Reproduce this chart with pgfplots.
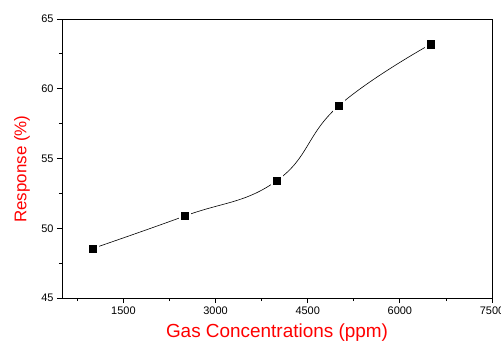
\documentclass[border=0pt]{standalone}
\usepackage{pgfplots}
\pgfplotsset{compat=1.18}
\usepackage{fontspec}
\setmainfont{Liberation Sans}
\begin{document}
\begin{tikzpicture}[x=1bp,y=1bp]
\useasboundingbox (-62,-45) rectangle (439,298);
\begin{axis}[
  at={(0,0)}, anchor=south west,
  scale only axis, width=430bp, height=279bp,
  xmin=500, xmax=7500, ymin=45, ymax=65,
  xtick={1500,3000,4500,6000,7500},
  minor xtick={750,2250,3750,5250,6750},
  ytick={45,50,55,60,65},
  minor ytick={47.5,52.5,57.5,62.5},
  tick pos=left, tick align=outside,
  major tick length=5bp, minor tick length=3bp,
  every tick/.style={black, line width=0.8bp},
  axis line style={black, line width=0.9bp},
  /pgf/number format/assume math mode=true,
  /pgf/number format/set thousands separator={},
  tick label style={font=\fontsize{11}{13}\selectfont},
  xlabel={Gas Concentrations (ppm)},
  ylabel={Response (\%)},
  xlabel style={font=\fontsize{19}{22}\selectfont, text=red, at={(axis description cs:0.5,-0.125)}, anchor=center},
  ylabel style={font=\fontsize{17}{20}\selectfont, text=red, at={(axis description cs:-0.093,0.462)}, anchor=center, rotate=0},
  clip=false,
]
\addplot[black, line width=0.6bp, smooth, tension=0.75, no marks] coordinates {
(1000,48.55) (2500,50.88) (4000,53.42) (5000,58.76) (6500,63.19)};
\addplot[only marks, mark=square*, mark size=5.5bp, mark options={fill=white, draw=white}] coordinates {
(1000,48.55) (2500,50.88) (4000,53.42) (5000,58.76) (6500,63.19)};
\addplot[only marks, mark=square*, mark size=3.6bp, mark options={fill=black, draw=black}] coordinates {
(1000,48.55) (2500,50.88) (4000,53.42) (5000,58.76) (6500,63.19)};
\end{axis}
\end{tikzpicture}
\end{document}
